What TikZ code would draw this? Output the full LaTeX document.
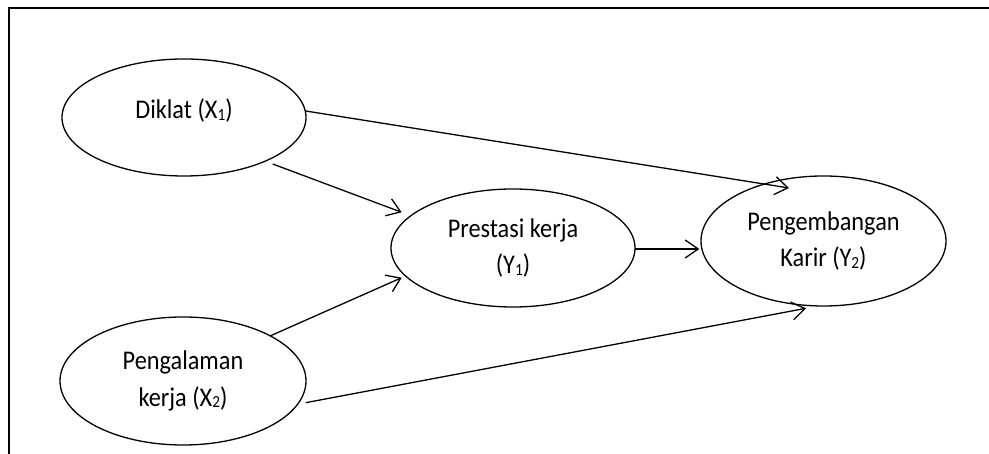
\documentclass[tikz,border=0pt]{standalone}
\usepackage{fontspec}
\setmainfont{Carlito}[FakeStretch=0.9]
\usetikzlibrary{arrows.meta,calc,shapes.geometric}
\newcommand\sbs[1]{\raisebox{-1.5pt}{\fontsize{17}{17}\selectfont #1}}
\begin{document}
\begin{tikzpicture}[x=1pt,y=1pt,
  bubble/.style={draw, ellipse, line width=1.3pt, inner sep=0pt, align=center,
    font=\fontsize{27}{36.5}\selectfont},
  link/.style={line width=1.3pt, -{Straight Barb[length=13pt,width=18pt]}}]
\useasboundingbox (0,0) rectangle (989,454);
\draw[line width=1.5pt] (9,0) |- (989,446);
\node[bubble, minimum width=244pt, minimum height=117pt, text height=19pt, text depth=16pt] (dik) at (184,336.5) {Diklat (X\sbs{1})};
\node[bubble, minimum width=244pt, minimum height=118pt] (pre) at (513,206) {Prestasi kerja\\(Y\sbs{1})};
\node[bubble, minimum width=245pt, minimum height=130pt] (kar) at (823.5,213) {Pengembangan\\Karir (Y\sbs{2})};
\node[bubble, minimum width=246pt, minimum height=128pt] (pen) at (183,73) {Pengalaman\\kerja (X\sbs{2})};
\draw[link] ($(dik.center)+(121.7,6.5)$) -- ($(kar.center)+(-34.5,53)$);
\draw[link] ($(dik.center)+(88.7,-46.5)$) -- ($(pre.center)+(-111.3,35.7)$);
\draw[link] ($(pen.center)+(87,45)$) -- ($(pre.center)+(-111.3,-29.7)$);
\draw[link] ($(pen.center)+(122.7,-21.7)$) -- ($(kar.center)+(-17.5,-67.3)$);
\draw[link] ($(pre.center)+(122,-1)$) -- ($(kar.center)+(-124.2,-8)$);
\end{tikzpicture}
\end{document}
